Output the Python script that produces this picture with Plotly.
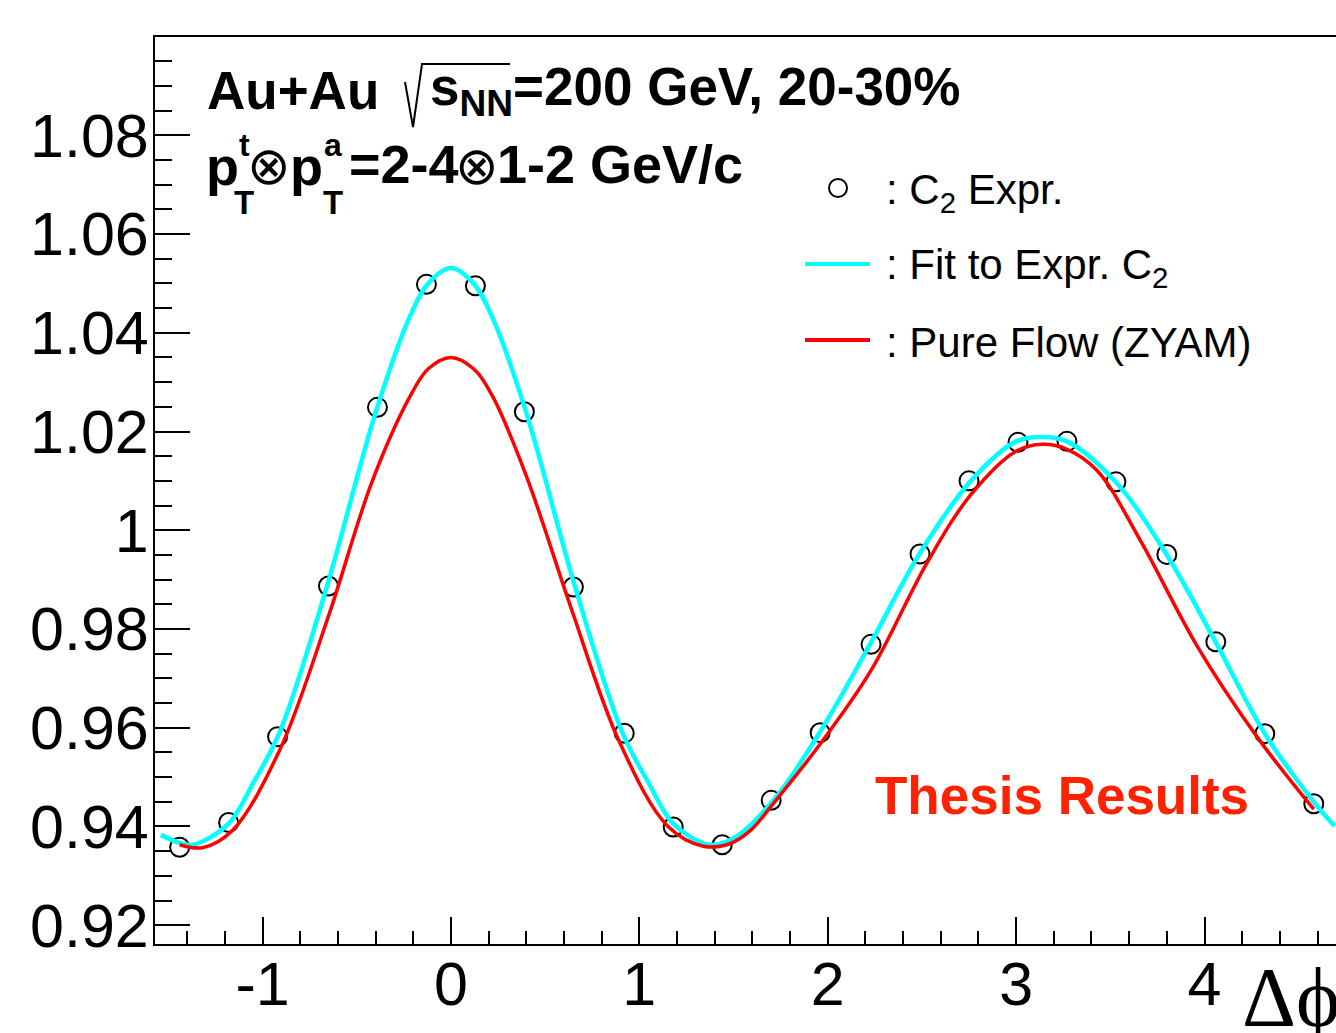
import plotly.graph_objects as go

# ---------------- data ----------------
dphi = [-1.44, -1.18, -0.92, -0.65, -0.39, -0.13, 0.13, 0.39, 0.65, 0.92, 1.18, 1.44,
        1.70, 1.96, 2.23, 2.49, 2.75, 3.01, 3.27, 3.53, 3.80, 4.06, 4.32, 4.58]
c2_expr = [0.9358, 0.9408, 0.9582, 0.9887, 1.0249, 1.0498, 1.0495, 1.0240, 0.9885, 0.9589, 0.9399, 0.9363,
           0.9453, 0.9590, 0.9769, 0.9952, 1.0100, 1.0178, 1.0180, 1.0098, 0.9951, 0.9774, 0.9588, 0.9446]

fit_dphi = [-1.54, -1.45, -1.37, -1.18, -1.05, -0.91, -0.66, -0.40, -0.22, -0.12, 0.0, 0.12, 0.22, 0.40,
            0.66, 0.91, 1.05, 1.18, 1.37, 1.50, 1.71, 1.96, 2.23, 2.49, 2.76, 3.00, 3.14, 3.27, 3.53,
            3.80, 4.06, 4.32, 4.58, 4.69]
fit_c2 = [0.9383, 0.9368, 0.9363, 0.9406, 0.9488, 0.9590, 0.9884, 1.0238, 1.0431, 1.0500, 1.0531, 1.0500,
          1.0431, 1.0238, 0.9884, 0.9590, 0.9488, 0.9406, 0.9363, 0.9376, 0.9452, 0.9592, 0.9773, 0.9954,
          1.0100, 1.0180, 1.0189, 1.0180, 1.0097, 0.9950, 0.9773, 0.9588, 0.9450, 0.9401]

flow_dphi = [-1.44, -1.32, -1.16, -0.91, -0.65, -0.42, -0.22, -0.12, 0.0, 0.12, 0.22, 0.40, 0.64,
             0.89, 1.15, 1.34, 1.48, 1.59, 1.71, 1.96, 2.23, 2.53, 2.76, 3.00, 3.14, 3.27, 3.43,
             3.66, 3.96, 4.28, 4.58]
flow_c2 = [0.9363, 0.9357, 0.9392, 0.9554, 0.9826, 1.0097, 1.0269, 1.0327, 1.0350, 1.0327, 1.0272, 1.0110,
           0.9840, 0.9575, 0.9401, 0.9360, 0.9365, 0.9392, 0.9446, 0.9567, 0.9716, 0.9936, 1.0072,
           1.0160, 1.0174, 1.0164, 1.0121, 0.9979, 0.9766, 0.9581, 0.9435]

ytick_vals = [0.92, 0.94, 0.96, 0.98, 1.00, 1.02, 1.04, 1.06, 1.08]
ytick_text = ["0.92", "0.94", "0.96", "0.98", "1", "1.02", "1.04", "1.06", "1.08"]
xtick_vals = [-1, 0, 1, 2, 3, 4]
xtick_text = ["-1", "0", "1", "2", "3", "4"]

# ---------------- layout geometry ----------------
W, H = 1336, 1033
L, R, T, B = 155, 0, 37, 89
PW, PH = W - L - R, H - T - B


def px(x):
    return (x - L) / PW


def py(y):
    return (H - B - y) / PH


SANS = "Liberation Sans, Arial, Helvetica, sans-serif"
SERIF = "Liberation Serif, Times New Roman, serif"

fig = go.Figure()

fig.add_trace(go.Scatter(
    x=dphi, y=c2_expr, mode="markers", name="C2 Expr.",
    marker=dict(symbol="circle-open", size=19, color="black", line=dict(width=2, color="black")),
    showlegend=False))
fig.add_trace(go.Scatter(
    x=fit_dphi, y=fit_c2, mode="lines", name="Fit to Expr. C2",
    line=dict(color="#00FFFF", width=4.5, shape="spline", smoothing=1.0), showlegend=False))
fig.add_trace(go.Scatter(
    x=flow_dphi, y=flow_c2, mode="lines", name="Pure Flow (ZYAM)",
    line=dict(color="#FF0000", width=3.5, shape="spline", smoothing=1.0), showlegend=False))

annotations = []
shapes = []


def text(x, y, s, size, bold=False, color="black", xanchor="left", family=SANS):
    annotations.append(dict(
        xref="paper", yref="paper", x=px(x), y=py(y), text=("<b>%s</b>" % s) if bold else s,
        showarrow=False, xanchor=xanchor, yanchor="middle",
        font=dict(family=family, size=size, color=color)))


# Line 1: Au+Au  sqrt(s_NN)=200 GeV, 20-30%
text(205, 90, "Au+Au", 53, bold=True)
text(428, 90, "s<sub>NN</sub>=200 GeV, 20-30%", 53, bold=True)
shapes.append(dict(type="path", xref="paper", yref="paper",
                   path="M %f,%f L %f,%f L %f,%f L %f,%f" % (px(405), py(82), px(413), py(127),
                                                          px(422), py(64), px(510), py(64)),
                   line=dict(color="black", width=2)))

# Line 2: p_T^t (x) p_T^a = 2-4 (x) 1-2 GeV/c
text(204, 166, "p", 54, bold=True)
text(244, 145, "t", 32, bold=True, xanchor="center")
text(244, 203, "T", 33, bold=True, xanchor="center")
text(269, 166, "\u2297", 52, xanchor="center", family="DejaVu Sans")
text(288, 166, "p", 54, bold=True)
text(333, 145, "a", 32, bold=True, xanchor="center")
text(333, 203, "T", 33, bold=True, xanchor="center")
text(347, 164, "=2-4", 54, bold=True)
text(477, 166, "\u2297", 52, xanchor="center", family="DejaVu Sans")
text(495, 164, "1-2 GeV/c", 54, bold=True)

# Legend (manual, ROOT style)
shapes.append(dict(type="circle", xref="paper", yref="paper",
                   x0=px(829), x1=px(847), y0=py(197), y1=py(179),
                   line=dict(color="black", width=2)))
text(884, 192, ": C<sub>2</sub> Expr.", 42)
shapes.append(dict(type="line", xref="paper", yref="paper",
                   x0=px(805), x1=px(870), y0=py(264), y1=py(264),
                   line=dict(color="#00FFFF", width=4)))
text(884, 267, ": Fit to Expr. C<sub>2</sub>", 42)
shapes.append(dict(type="line", xref="paper", yref="paper",
                   x0=px(805), x1=px(870), y0=py(340), y1=py(340),
                   line=dict(color="#FF0000", width=4)))
text(884, 342, ": Pure Flow (ZYAM)", 42)

# Watermark
text(873, 795, "Thesis Results", 53, bold=True, color="#FF2200")

# x axis title
text(1240, 998, "\u0394\u03d5", 84, family=SERIF)

tickfont = dict(family=SANS, size=61, color="black")

fig.update_layout(
    width=W, height=H,
    margin=dict(l=L, r=R, t=T, b=B, pad=0),
    paper_bgcolor="white", plot_bgcolor="white",
    showlegend=False,
    annotations=annotations, shapes=shapes,
    xaxis=dict(range=[-1.5708, 4.698], showgrid=False, zeroline=False,
               showline=True, linecolor="black", linewidth=2, mirror=True,
               ticks="inside", ticklen=27, tickwidth=2, tickcolor="black",
               tickvals=xtick_vals, ticktext=xtick_text, tickfont=tickfont,
               ticklabelstandoff=-14,
               minor=dict(ticks="inside", ticklen=13, tickwidth=2, tickcolor="black",
                          dtick=0.2, tick0=0, showgrid=False)),
    yaxis=dict(range=[0.9162, 1.0999], showgrid=False, zeroline=False,
               showline=True, linecolor="black", linewidth=2,
               ticks="inside", ticklen=35, tickwidth=2, tickcolor="black",
               tickvals=ytick_vals, ticktext=ytick_text, tickfont=tickfont,
               ticklabelstandoff=-8,
               minor=dict(ticks="inside", ticklen=17, tickwidth=2, tickcolor="black",
                          dtick=0.005, tick0=0.92, showgrid=False)),
)

fig.write_html("out.html")
